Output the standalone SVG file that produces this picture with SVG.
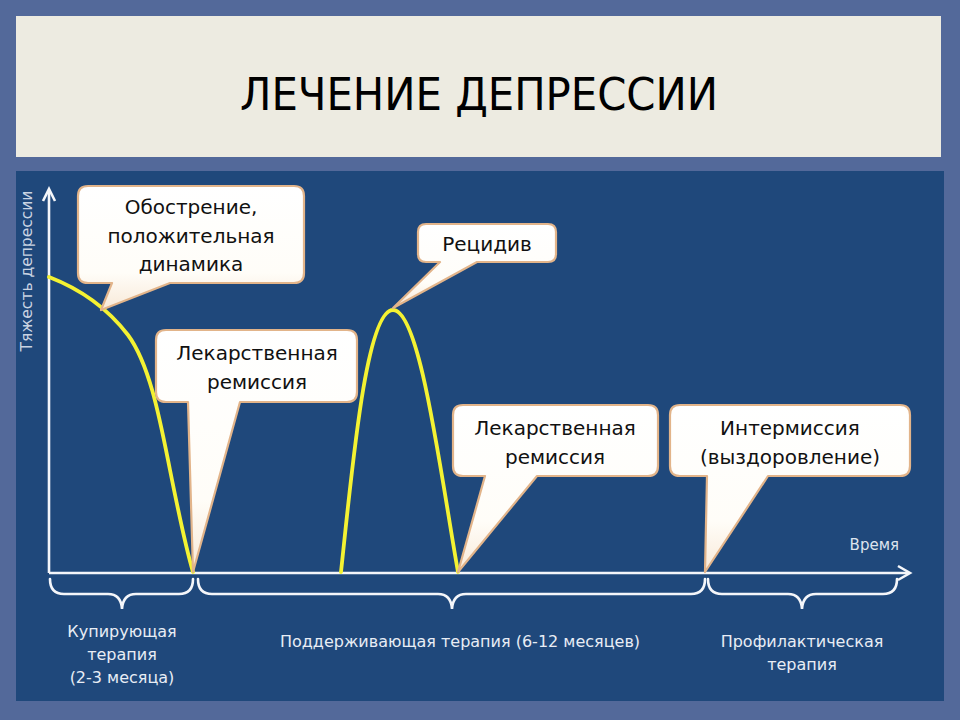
<svg xmlns="http://www.w3.org/2000/svg" width="960" height="720" viewBox="0 0 960 720">
<defs>
<style>
.lbl{font-family:"DejaVu Sans",Verdana,sans-serif;font-size:20px;fill:#111;text-anchor:middle}
.bot{font-family:"DejaVu Sans",Verdana,sans-serif;font-size:16px;fill:#E8EDF5;text-anchor:middle}
.call{fill:url(#cg);stroke:#E2B48A;stroke-width:2.2;stroke-linejoin:round}
.brace{fill:none;stroke:#F4F6FA;stroke-width:2.6;stroke-linecap:round}
.axis{fill:none;stroke:#F4F6FA;stroke-width:2.6}
.curve{fill:none;stroke:#F4F232;stroke-width:3.8;stroke-linecap:round}
</style>
<linearGradient id="cg" x1="0" y1="0" x2="0" y2="1">
<stop offset="0" stop-color="#FFFFFF"/>
<stop offset="0.7" stop-color="#FFFDF8"/>
<stop offset="1" stop-color="#F8E9D8"/>
</linearGradient>
</defs>
<rect x="0" y="0" width="960" height="720" fill="#53699A"/>
<rect x="16" y="16" width="925" height="141" fill="#EDEBE1"/>
<rect x="16" y="171" width="928" height="530" fill="#1F487B"/>
<text x="479" y="110" font-family="DejaVu Sans Condensed,DejaVu Sans,sans-serif" font-size="44" fill="#000" text-anchor="middle" textLength="478" lengthAdjust="spacingAndGlyphs">ЛЕЧЕНИЕ ДЕПРЕССИИ</text>

<g id="axes">
<path class="axis" d="M49,573 V190 M49,573 H909"/>
<path class="axis" d="M43,201 L49,189 L55,201" stroke-linejoin="miter"/>
<path class="axis" d="M898,566 L910,573 L898,580" stroke-linejoin="miter"/>
<text x="32" y="271" transform="rotate(-90 32 271)" font-family="DejaVu Sans,Verdana,sans-serif" font-size="15.5" fill="#C9D3E2" text-anchor="middle">Тяжесть депрессии</text>
<text x="899" y="550" font-family="DejaVu Sans,Verdana,sans-serif" font-size="15" fill="#DDE4EE" text-anchor="end">Время</text>
</g>

<g id="connectors">
<path class="curve" d="M49,277 C75,287 105,305 128,335 C150,365 160,420 170,470 C178,510 185,545 193,572"/>
<path class="curve" d="M341,572 C352,470 366,310 393,310 C420,310 440,470 458,572"/>
</g>

<g id="callout-obostrenie">
<path class="call" d="M88,186 H294 Q304,186 304,196 V273 Q304,283 294,283 H170 L101,310 L112,283 H88 Q78,283 78,273 V196 Q78,186 88,186 Z"/>
<text class="lbl" x="191" y="214">Обострение,</text>
<text class="lbl" x="191" y="243">положительная</text>
<text class="lbl" x="191" y="271">динамика</text>
</g>

<g id="callout-remissia1">
<path class="call" d="M166,330 H347 Q357,330 357,340 V392 Q357,402 347,402 H240 L193,572 L188,402 H166 Q156,402 156,392 V340 Q156,330 166,330 Z"/>
<text class="lbl" x="257" y="360">Лекарственная</text>
<text class="lbl" x="257" y="389">ремиссия</text>
</g>

<g id="callout-recidiv">
<path class="call" d="M426,224 H548 Q556,224 556,232 V254 Q556,262 548,262 H477 L393,308 L440,262 H426 Q418,262 418,254 V232 Q418,224 426,224 Z"/>
<text class="lbl" x="487" y="251">Рецидив</text>
</g>

<g id="callout-remissia2">
<path class="call" d="M463,405 H648 Q658,405 658,415 V466 Q658,476 648,476 H537 L458,572 L485,476 H463 Q453,476 453,466 V415 Q453,405 463,405 Z"/>
<text class="lbl" x="555" y="435">Лекарственная</text>
<text class="lbl" x="555" y="464">ремиссия</text>
</g>

<g id="callout-intermissia">
<path class="call" d="M680,405 H900 Q910,405 910,415 V466 Q910,476 900,476 H768 L705,572 L707,476 H680 Q670,476 670,466 V415 Q670,405 680,405 Z"/>
<text class="lbl" x="790" y="435">Интермиссия</text>
<text class="lbl" x="790" y="464">(выздоровление)</text>
</g>

<g id="brace-kupir">
<path class="brace" d="M50,579 Q50,594 64,594 H108 Q121,594 122,609 Q123,594 136,594 H179 Q193,594 193,579"/>
<text class="bot" x="122" y="637">Купирующая</text>
<text class="bot" x="122" y="660">терапия</text>
<text class="bot" x="122" y="683">(2-3 месяца)</text>
</g>

<g id="brace-podderzh">
<path class="brace" d="M198,579 Q198,594 212,594 H438 Q451,594 452,609 Q453,594 466,594 H691 Q705,594 705,579"/>
<text class="bot" x="460" y="647">Поддерживающая терапия (6-12 месяцев)</text>
</g>

<g id="brace-profil">
<path class="brace" d="M708,579 Q708,594 722,594 H788 Q801,594 802,609 Q803,594 816,594 H883 Q897,594 897,579"/>
<text class="bot" x="802" y="647">Профилактическая</text>
<text class="bot" x="802" y="670">терапия</text>
</g>
</svg>
